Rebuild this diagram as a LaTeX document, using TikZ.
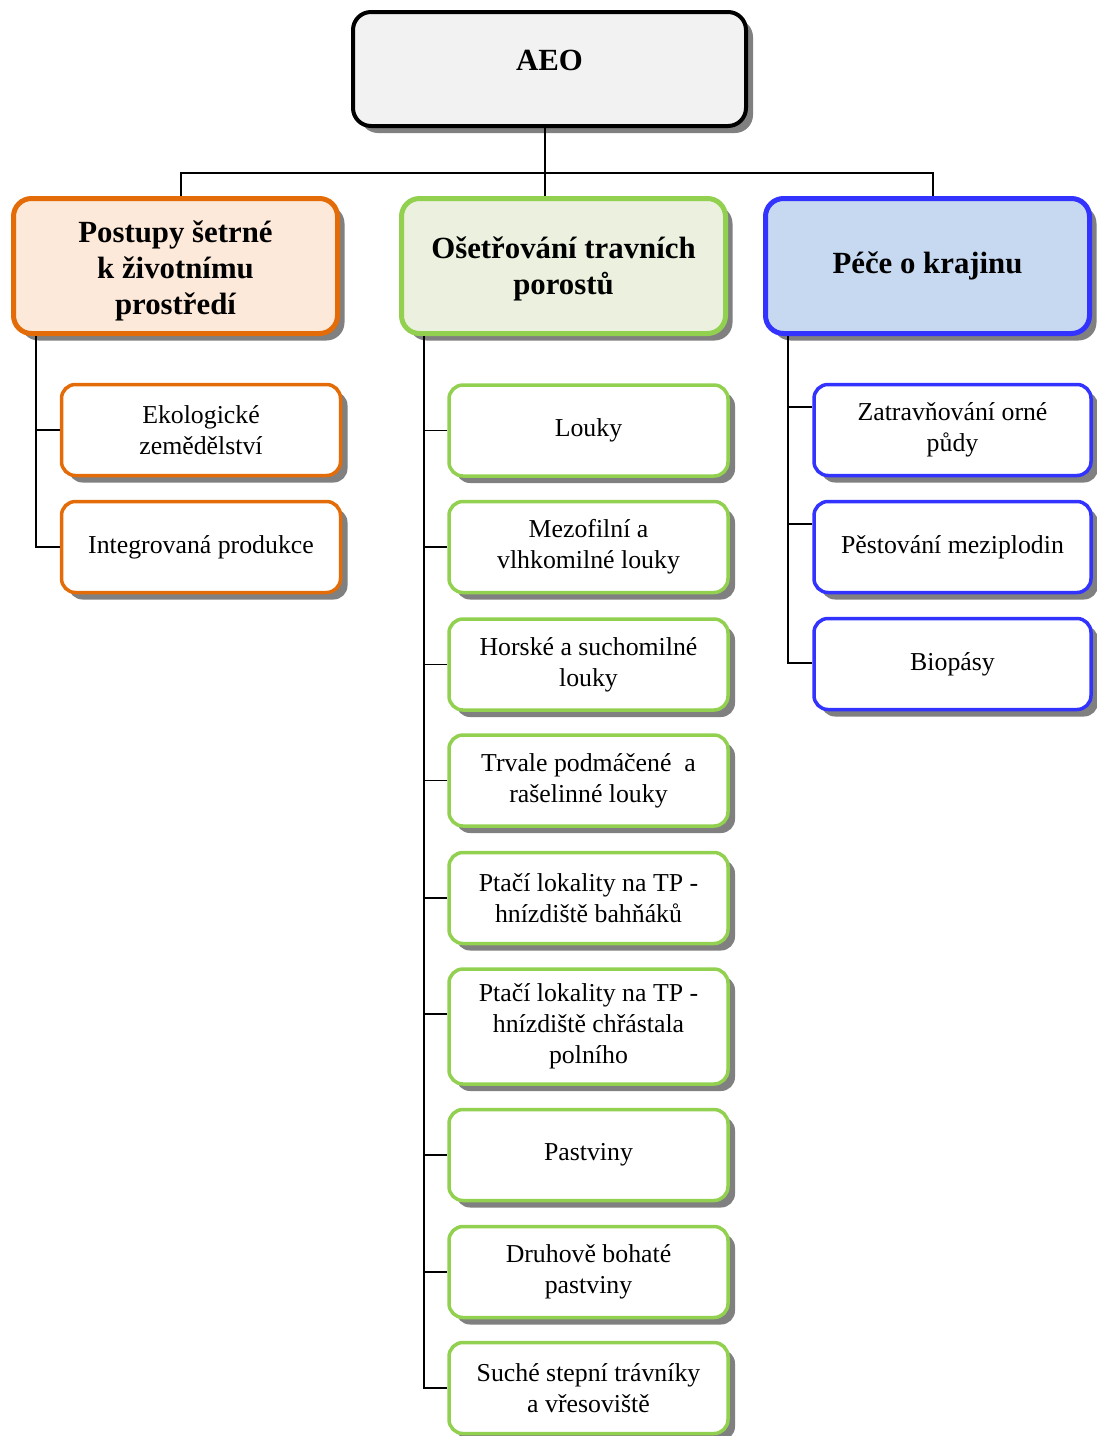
\documentclass[tikz,border=0pt]{standalone}
\usepackage{fontspec}
\setmainfont{Liberation Serif}
\usetikzlibrary{shadows}
\definecolor{orgB}{HTML}{E36C09}
\definecolor{orgF}{HTML}{FDE9D9}
\definecolor{grnB}{HTML}{92D050}
\definecolor{grnF}{HTML}{EBF1DE}
\definecolor{bluB}{HTML}{3333FF}
\definecolor{bluF}{HTML}{C6D9F1}
\definecolor{aeoF}{HTML}{F2F2F2}
\definecolor{shd}{HTML}{808080}
\begin{document}
\begin{tikzpicture}[x=1pt,y=-1pt,
  base/.style={align=center, inner sep=0pt, outer sep=0pt,
    drop shadow={shadow xshift=7pt, shadow yshift=-7pt, fill=shd, opacity=1}},
  head/.style={base, rounded corners=18pt, line width=5pt, minimum width=324pt, minimum height=135pt,
    font=\fontsize{30.8}{36}\selectfont\bfseries},
  child/.style={base, rounded corners=14pt, line width=3.5pt, fill=white, minimum width=279pt, minimum height=91pt,
    font=\fontsize{25.8}{31}\selectfont},
  ochild/.style={child, draw=orgB},
  gchild/.style={child, draw=grnB},
  bchild/.style={child, draw=bluB},
  conn/.style={line width=1.8pt, draw=black}]
\useasboundingbox (0,0) rectangle (1096,1436);

% top
\node[base, rounded corners=18pt, draw=black, fill=aeoF, line width=4pt, minimum width=393pt, minimum height=114pt,
  text depth=18pt, font=\fontsize{30.8}{36}\selectfont\bfseries] (aeo) at (549.5,69) {AEO};

% headers
\node[head, draw=orgB, fill=orgF] (oh) at (175.5,266) {\rule{0pt}{32pt}Postupy šetrné\\k životnímu\\prostředí};
\node[head, draw=grnB, fill=grnF] (gh) at (563.5,266) {\rule{0pt}{28pt}Ošetřování travních\\porostů};
\node[head, draw=bluB, fill=bluF] (bh) at (927.5,266) {Péče o krajinu};

% orange children
\node[ochild] (o1) at (201,430) {Ekologické\\zemědělství};
\node[ochild] (o2) at (201,547) {Integrovaná produkce};

% green children
\node[gchild] (g1) at (588.5,430.5) {Louky};
\node[gchild] (g2) at (588.5,547) {Mezofilní a\\vlhkomilné louky};
\node[gchild] (g3) at (588.5,664.5) {Horské a suchomilné\\louky};
\node[gchild] (g4) at (588.5,780.5) {Trvale podmáčené\ \ a\\rašelinné louky};
\node[gchild] (g5) at (588.5,898) {Ptačí lokality na TP -\\hnízdiště bahňáků};
\node[gchild, minimum height=115pt] (g6) at (588.5,1026.5) {Ptačí lokality na TP -\\hnízdiště chřástala\\polního};
\node[gchild] (g7) at (588.5,1155) {Pastviny};
\node[gchild] (g8) at (588.5,1272) {Druhově bohaté\\pastviny};
\node[gchild] (g9) at (588.5,1388) {Suché stepní trávníky\\a vřesoviště};

% blue children
\node[bchild, minimum width=277pt] (b1) at (952.5,430) {Zatravňování orné\\půdy};
\node[bchild, minimum width=277pt] (b2) at (952.5,547) {Pěstování meziplodin};
\node[bchild, minimum width=277pt] (b3) at (952.5,664) {Biopásy};

% connectors: top level
\coordinate (bus) at (545,173);
\draw[conn, shorten <=2pt, shorten >=2.5pt] ([xshift=-4.5pt]aeo.south) -- ([xshift=-18.5pt]gh.north);
\draw[conn, shorten <=2.5pt, shorten >=2.5pt] ([xshift=5.5pt]oh.north) |- (bus) -| ([xshift=5.5pt]bh.north);

% orange branches
\draw[conn, shorten <=2.5pt, shorten >=1.75pt] ([xshift=22.5pt]oh.south west) |- (o1.west);
\draw[conn, shorten <=2.5pt, shorten >=1.75pt] ([xshift=22.5pt]oh.south west) |- (o2.west);

% green branches
\foreach \n in {g1,g2,g3,g4,g5,g7,g8,g9}
  \draw[conn, shorten <=2.5pt, shorten >=1.75pt] ([xshift=22.5pt]gh.south west) |- (\n.west);
\draw[conn, shorten <=2.5pt, shorten >=1.75pt] ([xshift=22.5pt]gh.south west) |- ([yshift=12.5pt]g6.west);

% blue branches
\draw[conn, shorten <=2.5pt, shorten >=1.75pt] ([xshift=22.5pt]bh.south west) |- ([yshift=23pt]b1.west);
\draw[conn, shorten <=2.5pt, shorten >=1.75pt] ([xshift=22.5pt]bh.south west) |- ([yshift=23pt]b2.west);
\draw[conn, shorten <=2.5pt, shorten >=1.75pt] ([xshift=22.5pt]bh.south west) |- ([yshift=1pt]b3.west);
\end{tikzpicture}
\end{document}
